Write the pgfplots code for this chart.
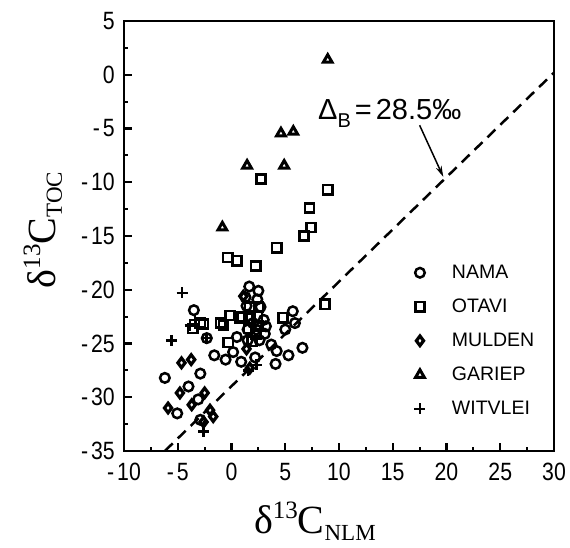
\documentclass[border=0pt]{standalone}
\usepackage{fontspec}
\usepackage{pgfplots}
\pgfplotsset{compat=1.18}
\usetikzlibrary{arrows.meta}
\setmainfont{Liberation Sans}
\newfontfamily\narrowsans[FakeStretch=0.85]{Liberation Sans}
\newfontfamily\serifL{Liberation Serif}
\newcommand\tickfont{\narrowsans\fontsize{25}{25}\selectfont}
\newcommand\legfont{\fontsize{19.5}{19.5}\selectfont}
\newcommand\annfont{\fontsize{29}{29}\selectfont}
% delta-13-C label with sub text
\newcommand\dC[1]{{\serifL\fontsize{40}{40}\selectfont δ\raisebox{0.375em}{\fontsize{25}{25}\selectfont 13}C\raisebox{-0.17em}{\fontsize{23}{23}\selectfont #1}}}

\begin{document}
\begin{tikzpicture}
\useasboundingbox (-124pt,-97pt) rectangle (446pt,451pt);
\begin{axis}[
  scale only axis, width=430pt, height=430pt,
  xmin=-10, xmax=30, ymin=-35, ymax=5,
  xtick={-10,-5,...,30}, ytick={-35,-30,...,5},
  xticklabels={-\kern3pt 10,-\kern3pt 5,0,5,10,15,20,25,30},
  yticklabels={-\kern3pt 35,-\kern3pt 30,-\kern3pt 25,-\kern3pt 20,-\kern3pt 15,-\kern3pt 10,-\kern3pt 5,0,5},
  minor x tick num=1, minor y tick num=1,
  tick align=inside, xtick pos=bottom, ytick pos=left,
  major tick length=8pt, minor tick length=4pt,
  major tick style={black, line width=2.2pt},
  minor tick style={black, line width=2.2pt},
  axis line style={line width=2.8pt},
  tick label style={font=\tickfont, inner sep=0pt},
  xticklabel style={yshift=-12pt},
  yticklabel style={xshift=-9pt},
  xlabel={\dC{NLM}}, ylabel={\dC{TOC}},
  xlabel style={at={(axis description cs:0.444,-0.193)}, anchor=base, inner sep=0pt},
  ylabel style={at={(axis description cs:-0.160,0.514)}, anchor=base, inner sep=0pt},
  legend style={draw=none, fill=none, font=\legfont, inner sep=0pt,
    at={(axis description cs:0.675,0.437)}, anchor=north west, row sep=15pt},
  legend cell align=left,
  legend image code/.code={\path[draw=none,fill=none] (-5pt,-5pt) (30pt,5pt); \draw[#1] plot coordinates {(0pt,0pt)};},
]
% NAMA
\addplot[only marks, mark=o, mark size=4.8pt, mark options={line width=2.5pt}] coordinates {
 (1.65,-19.7)(2.5,-20.1)(1.3,-20.7)(2.4,-20.9)(2.7,-21.6)(1.4,-21.5)
 (-3.5,-21.9)(5.7,-22.0)(5.9,-23.1)(5.0,-23.7)(3.2,-23.4)(3.1,-24.1)
 (0.5,-24.4)(-2.3,-24.5)(2.6,-24.7)(3.7,-25.1)(4.2,-25.7)(5.3,-26.1)
 (6.6,-25.4)(4.1,-26.9)(-1.6,-26.1)(-0.55,-26.5)(0.15,-25.8)(0.9,-26.7)
 (2.2,-26.3)(1.5,-23.7)(2.3,-23.7)(3.0,-22.8)(2.0,-23.1)(1.5,-24.7)
 (-6.2,-28.2)(-2.9,-27.8)(-4.0,-29.0)(-5.05,-31.5)(-3.1,-30.2)(-2.9,-32.1)
};
% OTAVI
\addplot[only marks, mark=square, mark size=4.6pt, mark options={line width=2.5pt}] coordinates {
 (2.75,-9.7)(8.95,-10.7)(7.25,-12.4)(7.4,-14.2)(6.75,-15.0)(4.2,-16.1)
 (-0.35,-17.0)(0.5,-17.3)(2.25,-17.8)(8.7,-21.35)(4.8,-22.6)(-1.0,-23.1)
 (-0.75,-23.3)(-0.15,-22.4)(0.8,-22.6)(-0.3,-24.9)(-2.9,-23.1)(-2.6,-23.2)
 (-3.6,-23.6)(1.7,-21.6)(2.5,-21.6)(1.0,-22.5)(1.7,-22.7)(2.4,-22.5)
 (1.6,-23.6)(1.9,-24.8)(2.3,-24.1)(2.5,-23.4)
};
% MULDEN
\addplot[only marks, mark=diamond, mark size=4.8pt, mark options={line width=3.2pt}] coordinates {
 (-4.65,-26.8)(-3.75,-26.5)(-5.9,-31.0)(-3.7,-30.7)(-2.5,-29.6)(-2.0,-31.2)
 (-1.7,-31.8)(-4.8,-29.6)(1.1,-20.6)(1.4,-25.5)(1.7,-27.3)(-2.6,-32.3)
};
% GARIEP
\addplot[only marks, mark=triangle, mark size=5pt, mark options={line width=3pt}] coordinates {
 (8.95,1.4)(4.6,-5.45)(5.75,-5.3)(1.45,-8.45)(4.9,-8.45)(-0.85,-14.2)
};
% WITVLEI
\addplot[only marks, mark=+, mark size=5.5pt, mark options={line width=2.6pt}] coordinates {
 (-4.6,-20.3)(-5.6,-24.7)(-2.6,-33.2)(-3.85,-23.3)(-3.4,-22.8)
 (1.55,-27.5)(2.3,-27.0)(-2.3,-24.5)
};
\legend{NAMA,OTAVI,MULDEN,GARIEP,WITVLEI}
% boundary line
\addplot[line width=2.5pt, dash pattern=on 11pt off 7pt] coordinates {(-6.2,-35)(30,0.2)};
\node[anchor=base west, inner sep=0pt, font=\annfont] at (axis cs:8.05,-4.2)
  {Δ\raisebox{-0.25em}{\fontsize{20}{20}\selectfont B}\kern4pt=\kern4pt28.5‰};
\draw[-{Stealth[length=11pt,width=6pt]}, line width=1.5pt] (axis cs:17.5,-4.7) -- (axis cs:19.7,-9.5);
\draw[line width=2.8pt] (rel axis cs:0,0) rectangle (rel axis cs:1,1);
\end{axis}
\end{tikzpicture}
\end{document}
